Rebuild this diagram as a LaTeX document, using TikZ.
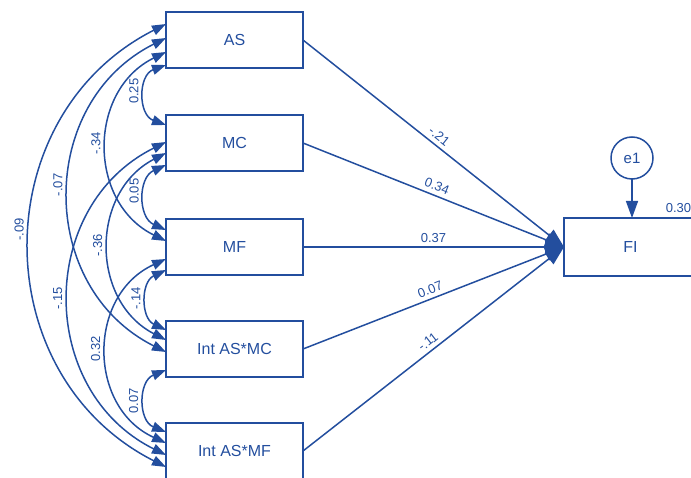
\documentclass[tikz,border=0pt]{standalone}
\usepackage{fontspec}
\setmainfont{Liberation Sans}
\usetikzlibrary{arrows.meta,calc}
\definecolor{amosblue}{RGB}{35,78,158}
\begin{document}
\begin{tikzpicture}[x=1pt,y=-1pt,
  box/.style={draw=amosblue, line width=1.5pt, minimum width=137pt, minimum height=56pt,
    inner sep=0pt, outer sep=0pt, text=amosblue, font=\fontsize{16}{18}\selectfont},
  errc/.style={draw=amosblue, line width=1.5pt, circle, minimum size=42pt, inner sep=0pt,
    outer sep=0pt, text=amosblue, font=\fontsize{15}{17}\selectfont},
  regr/.style={draw=amosblue, line width=1.5pt, -{Triangle[length=19pt,width=14pt]}},
  cov/.style={draw=amosblue, line width=1.5pt,
    {Triangle[length=14pt,width=10pt]}-{Triangle[length=14pt,width=10pt]}},
  plab/.style={font=\fontsize{13}{15}\selectfont, text=amosblue, sloped, above=3pt,
    inner sep=1pt, midway},
  clab/.style={font=\fontsize{13}{15}\selectfont, text=amosblue, rotate=90,
    anchor=south, inner xsep=0pt, inner ysep=6pt}]

\useasboundingbox (0,0) rectangle (691,478);

% observed variables
\node[box] (AS)   at (234.5,40)  {AS};
\node[box] (MC)   at (234.5,143) {MC};
\node[box] (MF)   at (234.5,247) {MF};
\node[box] (IMC)  at (234.5,349) {Int AS*MC};
\node[box] (IMF)  at (234.5,451) {Int AS*MF};
\node[box, minimum width=133pt, minimum height=58pt] (FI) at (630.5,247) {FI};

% residual
\node[errc] (e1) at (632,158) {e1};
\draw[regr, -{Triangle[length=17pt,width=12pt]}] (e1.south) -- (e1.south |- FI.north);
\node[font=\fontsize{13}{15}\selectfont, text=amosblue, inner sep=0pt] (r2) at (678.5,208.5) {0.30};

% regression paths
\draw[regr] (AS.east)  -- (FI.west) node[plab] {-.21};
\draw[regr] (MC.east)  -- (FI.west) node[plab] {0.34};
\draw[regr] (MF.east)  -- (FI.west) node[plab] {0.37};
\draw[regr] (IMC.east) -- (FI.west) node[plab] {0.07};
\draw[regr] (IMF.east) -- (FI.west) node[plab] {-.11};

% attachment points on the left sides
\coordinate (a1) at (AS.west |- 0,24);
\coordinate (a2) at (AS.west |- 0,38);
\coordinate (a3) at (AS.west |- 0,52);
\coordinate (a4) at (AS.west |- 0,65);
\coordinate (m1) at (MC.west |- 0,125);
\coordinate (m2) at (MC.west |- 0,142);
\coordinate (m3) at (MC.west |- 0,153);
\coordinate (m4) at (MC.west |- 0,165);
\coordinate (f1) at (MF.west |- 0,230);
\coordinate (f2) at (MF.west |- 0,241);
\coordinate (f3) at (MF.west |- 0,259);
\coordinate (f4) at (MF.west |- 0,270);
\coordinate (c1) at (IMC.west |- 0,330);
\coordinate (c2) at (IMC.west |- 0,340);
\coordinate (c3) at (IMC.west |- 0,352);
\coordinate (c4) at (IMC.west |- 0,370);
\coordinate (d1) at (IMF.west |- 0,432);
\coordinate (d2) at (IMF.west |- 0,443);
\coordinate (d3) at (IMF.west |- 0,455);
\coordinate (d4) at (IMF.west |- 0,467);

% covariances
\draw[cov] (a4) .. controls +(-28.0,10.2) and +(-28.0,-10.2) .. (m1) node[clab,pos=.45] {0.25};
\draw[cov] (m4) .. controls +(-28.1,12.6) and +(-28.1,-12.6) .. (f1) node[clab,pos=.42] {0.05};
\draw[cov] (f4) .. controls +(-25.3,12.0) and +(-25.3,-12.0) .. (c1) node[clab,pos=.48] {-.14};
\draw[cov] (c4) .. controls +(-27.9,11.2) and +(-27.9,-11.2) .. (d1) node[clab,pos=.5] {0.07};
\draw[cov] (a3) .. controls +(-78.5,38.5) and +(-78.5,-38.5) .. (f2) node[clab,pos=.487] {-.34};
\draw[cov] (m3) .. controls +(-75.9,39.2) and +(-75.9,-39.2) .. (c2) node[clab,pos=.495] {-.36};
\draw[cov] (f3) .. controls +(-78.7,36.0) and +(-78.7,-36.0) .. (d2) node[clab,pos=.49] {0.32};
\draw[cov] (a2) .. controls +(-129.3,64.7) and +(-129.3,-64.7) .. (c3) node[clab,pos=.473] {-.07};
\draw[cov] (m2) .. controls +(-129.2,64.2) and +(-129.2,-64.2) .. (d3) node[clab,pos=.5] {-.15};
\draw[cov] (a1) .. controls +(-181.3,92.0) and +(-181.3,-92.0) .. (d4) node[clab,pos=.47] {-.09};
\end{tikzpicture}
\end{document}
